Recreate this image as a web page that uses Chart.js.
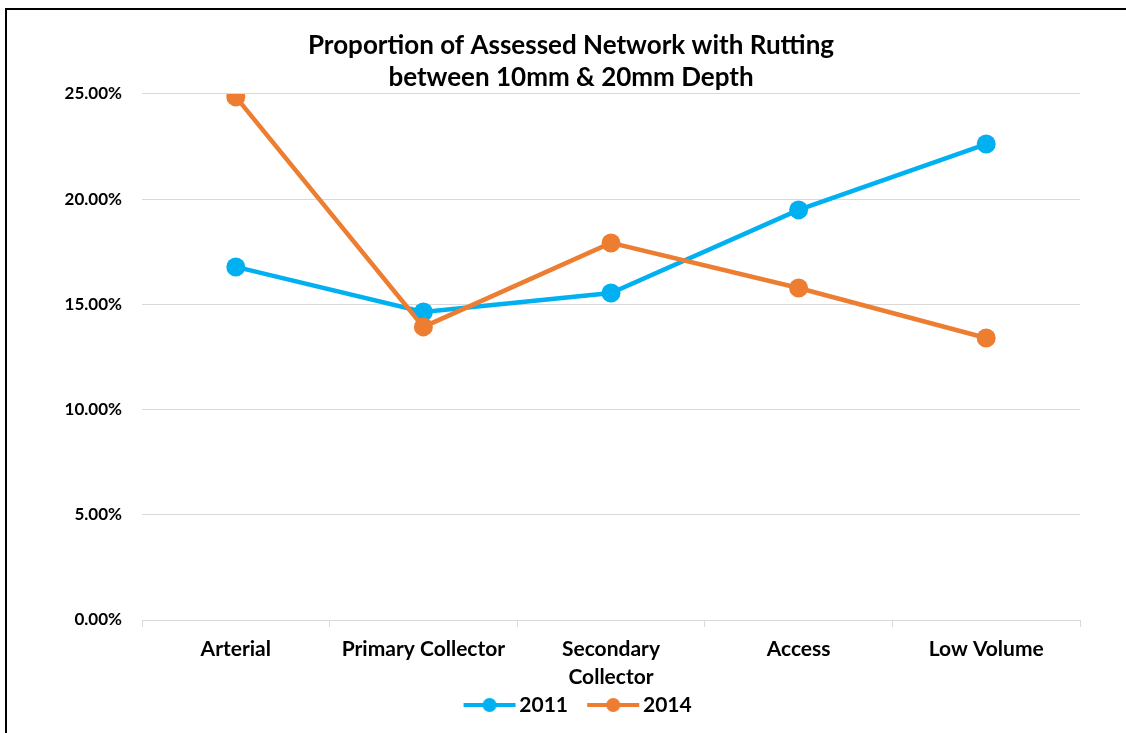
<!DOCTYPE html>
<html>
<head>
<meta charset="utf-8">
<script src="https://cdn.jsdelivr.net/npm/chart.js@4.4.0/dist/chart.umd.min.js"></script>
<style>
  html, body { margin: 0; padding: 0; background: #fff; }
  #wrap { position: relative; width: 1126px; height: 733px; overflow: hidden; }
  #frame { position: absolute; left: 5px; top: 8px; width: 1200px; height: 800px;
           border-left: 2px solid #000; border-top: 2px solid #000; }
  canvas { position: absolute; left: 0; top: 0; }
</style>
</head>
<body>
<div id="wrap">
  <div id="frame"></div>
  <canvas id="chart" width="1126" height="733"></canvas>
</div>
<script>
  const categories = ['Arterial', 'Primary Collector', ['Secondary', 'Collector'], 'Access', 'Low Volume'];
  const rut2011 = [16.78, 14.64, 15.54, 19.49, 22.62];
  const rut2014 = [24.86, 13.93, 17.92, 15.78, 13.40];
  const yTicks = [0, 5, 10, 15, 20, 25];

  const BLUE = '#00B0F0';
  const ORANGE = '#ED7D31';
  const FONT = 'Lato, "Open Sans", sans-serif';

  // legend marker: short line with a dot, drawn a bit right of its box
  function makeMarker(color) {
    const c = document.createElement('canvas');
    c.width = 74; c.height = 16;
    const g = c.getContext('2d');
    g.strokeStyle = color;
    g.lineWidth = 4;
    g.beginPath(); g.moveTo(21, 8); g.lineTo(73, 8); g.stroke();
    g.fillStyle = color;
    g.beginPath(); g.arc(47, 8, 7, 0, Math.PI * 2); g.fill();
    return c;
  }
  const markers = [makeMarker(BLUE), makeMarker(ORANGE)];

  Chart.defaults.font.family = FONT;
  Chart.defaults.color = '#000';

  new Chart(document.getElementById('chart').getContext('2d'), {
    type: 'line',
    data: {
      labels: categories,
      datasets: [{
        label: '2011',
        data: rut2011,
        borderColor: BLUE,
        backgroundColor: BLUE,
        borderWidth: 4.5,
        pointRadius: 9.5,
        pointBorderWidth: 0,
        pointBackgroundColor: BLUE,
        order: 1
      }, {
        label: '2014',
        data: rut2014,
        borderColor: ORANGE,
        backgroundColor: ORANGE,
        borderWidth: 4.5,
        pointRadius: 9.5,
        pointBorderWidth: 0,
        pointBackgroundColor: ORANGE,
        order: 0
      }]
    },
    options: {
      responsive: false,
      animation: false,
      layout: { padding: { left: 62, right: 46, top: 0, bottom: 7.5 } },
      plugins: {
        title: {
          display: true,
          text: ['Proportion of Assessed Network with Rutting', 'between 10mm & 20mm Depth'],
          color: '#000',
          font: { size: 26, weight: 'bold', lineHeight: 1.23 },
          padding: { top: 30, bottom: 0 }
        },
        legend: {
          position: 'bottom',
          labels: {
            usePointStyle: true,
            pointStyleWidth: 58.5,
            padding: 6,
            color: '#000',
            font: { size: 21, weight: 'bold' },
            sort: (a, b) => a.datasetIndex - b.datasetIndex,
            generateLabels: function(chart) {
              const items = Chart.defaults.plugins.legend.labels.generateLabels(chart);
              items.forEach(item => { item.pointStyle = markers[item.datasetIndex]; });
              return items;
            }
          }
        },
        tooltip: { enabled: false }
      },
      scales: {
        x: {
          offset: true,
          grid: {
            offset: true,
            drawOnChartArea: false,
            drawTicks: true,
            tickLength: 7,
            color: '#d9d9d9'
          },
          border: { display: true, color: '#d9d9d9' },
          ticks: {
            padding: 8,
            maxRotation: 0,
            autoSkip: false,
            color: '#000',
            font: { size: 21, weight: 'bold', lineHeight: 1.333 }
          },
          afterFit: function(scale) { scale.height = 68.5; }
        },
        y: {
          min: 0,
          max: 25,
          afterBuildTicks: function(scale) {
            scale.ticks = yTicks.map(v => ({ value: v }));
          },
          grid: { color: '#d9d9d9', drawTicks: false },
          border: { display: false },
          ticks: {
            padding: 20,
            color: '#000',
            font: { size: 17, weight: 'bold' },
            callback: v => v.toFixed(2) + '%'
          },
          afterFit: function(scale) { scale.width = 80; }
        }
      }
    }
  });
</script>
</body>
</html>
